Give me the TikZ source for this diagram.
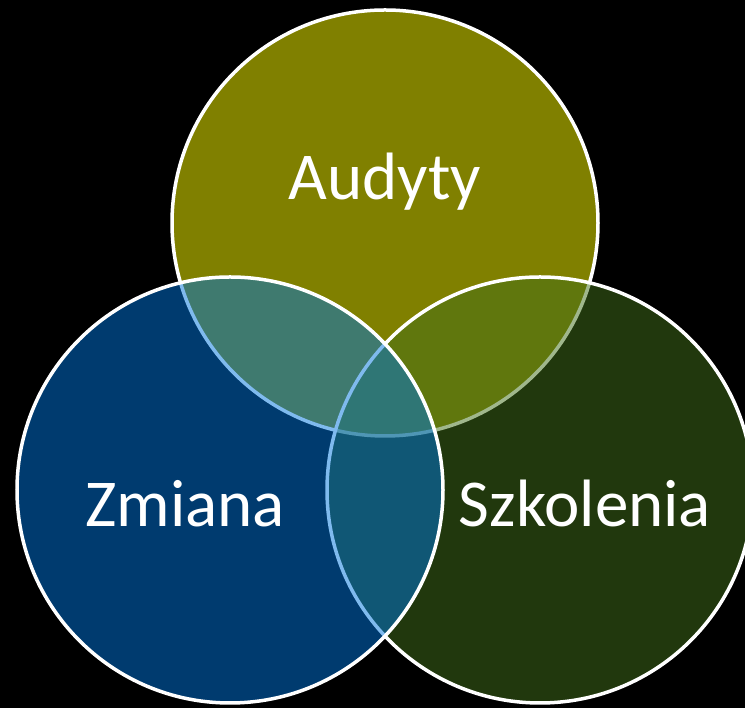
\documentclass[tikz,border=0pt]{standalone}
\usepackage{fontspec}
\setmainfont{Carlito}
\definecolor{topc}{RGB}{128,128,0}
\definecolor{rightc}{RGB}{66,112,26}
\definecolor{leftc}{RGB}{0,118,222}
\tikzset{
  venn/.style={circle, minimum size=426pt, inner sep=0pt, draw=white, line width=3.5pt},
  lbl/.style={text=white, font=\fontsize{67}{74}\selectfont, anchor=base, inner sep=0pt}
}
\begin{document}
\begin{tikzpicture}[x=1pt,y=1pt]
\useasboundingbox (0,0) rectangle (745,708);
\fill[black] (0,0) rectangle (745,708);
\clip (0,0) rectangle (745,708);
\node[venn, fill=topc] (audyty) at (385,485) {};
\node[venn, fill=rightc, fill opacity=0.5] (szkolenia) at (540,218) {};
\node[venn, fill=leftc, fill opacity=0.5] (zmiana) at (230,218) {};
\node[lbl] (tA) at (385,508) {Audyty};
\node[lbl] (tZ) at (185,181) {Zmiana};
\node[lbl] (tS) at (585,181) {Szkolenia};
\end{tikzpicture}
\end{document}
